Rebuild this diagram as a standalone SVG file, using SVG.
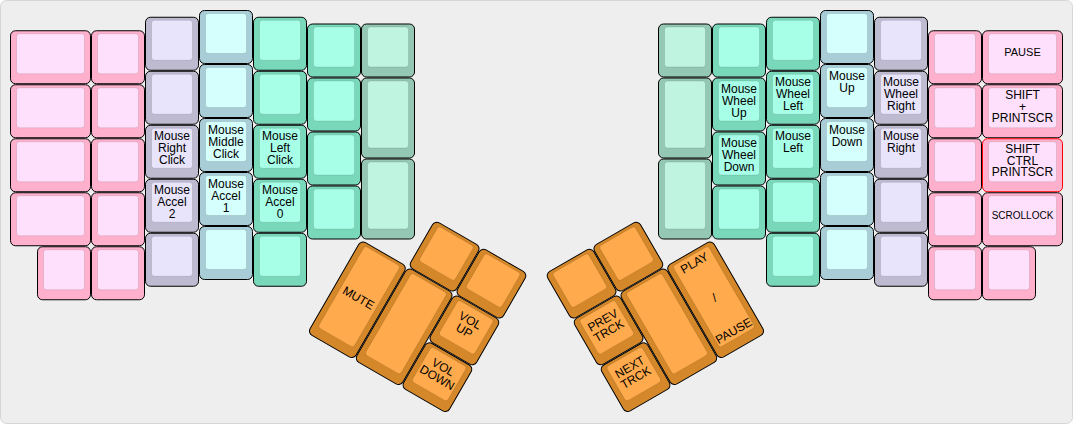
<svg xmlns="http://www.w3.org/2000/svg" width="1073" height="424" viewBox="0 0 1073 424">
<style>
.o{stroke:#000;stroke-width:1}
.i{stroke:rgba(0,0,0,.1);stroke-width:1}
.pk .o{fill:#ffb0cc}.pk .i{fill:#ffe0fc}
.lv .o{fill:#bebad0}.lv .i{fill:#e8e4fc}
.cy .o{fill:#a8cdd6}.cy .i{fill:#d4fffc}
.mt .o{fill:#7ad8ba}.mt .i{fill:#a8ffe8}
.sg .o{fill:#94c8b4}.sg .i{fill:#bef4e0}
.or .o{fill:#d4882a}.or .i{fill:#ffaa4c}
.red .o{stroke:#f00}
text{font-family:"Liberation Sans",Arial,Helvetica,sans-serif;font-size:12px;text-anchor:middle;fill:#000}
.s11{font-size:11px}.s10{font-size:10px}
</style>
<defs>
<g id="u1"><rect class="o" x=".5" y=".5" width="53" height="53" rx="5"/><rect class="i" x="6.5" y="3.5" width="41" height="40" rx="3"/></g>
</defs>
<rect x="0.5" y="0.5" width="1072" height="423" rx="6" fill="#eeeeee" stroke="#d6d6d6"/>

<g id="left-hand">
<g id="L-c0-r0" class="pk" transform="translate(10,30.25)"><rect class="o" x=".5" y=".5" width="80" height="53" rx="5"/><rect class="i" x="6.5" y="3.5" width="68" height="40" rx="3"/></g>
<g id="L-c0-r1" class="pk" transform="translate(10,84.25)"><rect class="o" x=".5" y=".5" width="80" height="53" rx="5"/><rect class="i" x="6.5" y="3.5" width="68" height="40" rx="3"/></g>
<g id="L-c0-r2" class="pk" transform="translate(10,138.25)"><rect class="o" x=".5" y=".5" width="80" height="53" rx="5"/><rect class="i" x="6.5" y="3.5" width="68" height="40" rx="3"/></g>
<g id="L-c0-r3" class="pk" transform="translate(10,192.25)"><rect class="o" x=".5" y=".5" width="80" height="53" rx="5"/><rect class="i" x="6.5" y="3.5" width="68" height="40" rx="3"/></g>
<g id="L-c0-r4" class="pk" transform="translate(37,246.25)"><rect class="o" x=".5" y=".5" width="53" height="53" rx="5"/><rect class="i" x="6.5" y="3.5" width="41" height="40" rx="3"/></g>

<g id="L-c1-r0" class="pk" transform="translate(91,30.25)"><rect class="o" x=".5" y=".5" width="53" height="53" rx="5"/><rect class="i" x="6.5" y="3.5" width="41" height="40" rx="3"/></g>
<g id="L-c1-r1" class="pk" transform="translate(91,84.25)"><rect class="o" x=".5" y=".5" width="53" height="53" rx="5"/><rect class="i" x="6.5" y="3.5" width="41" height="40" rx="3"/></g>
<g id="L-c1-r2" class="pk" transform="translate(91,138.25)"><rect class="o" x=".5" y=".5" width="53" height="53" rx="5"/><rect class="i" x="6.5" y="3.5" width="41" height="40" rx="3"/></g>
<g id="L-c1-r3" class="pk" transform="translate(91,192.25)"><rect class="o" x=".5" y=".5" width="53" height="53" rx="5"/><rect class="i" x="6.5" y="3.5" width="41" height="40" rx="3"/></g>
<g id="L-c1-r4" class="pk" transform="translate(91,246.25)"><rect class="o" x=".5" y=".5" width="53" height="53" rx="5"/><rect class="i" x="6.5" y="3.5" width="41" height="40" rx="3"/></g>

<g id="L-c2-r0" class="lv" transform="translate(145,16.75)"><rect class="o" x=".5" y=".5" width="53" height="53" rx="5"/><rect class="i" x="6.5" y="3.5" width="41" height="40" rx="3"/></g>
<g id="L-c2-r1" class="lv" transform="translate(145,70.75)"><rect class="o" x=".5" y=".5" width="53" height="53" rx="5"/><rect class="i" x="6.5" y="3.5" width="41" height="40" rx="3"/></g>
<g id="L-c2-r2" class="lv" transform="translate(145,124.75)"><rect class="o" x=".5" y=".5" width="53" height="53" rx="5"/><rect class="i" x="6.5" y="3.5" width="41" height="40" rx="3"/><text x="27" y="15.5">Mouse</text><text x="27" y="27.5">Right</text><text x="27" y="39.5">Click</text></g>
<g id="L-c2-r3" class="lv" transform="translate(145,178.75)"><rect class="o" x=".5" y=".5" width="53" height="53" rx="5"/><rect class="i" x="6.5" y="3.5" width="41" height="40" rx="3"/><text x="27" y="15.5">Mouse</text><text x="27" y="27.5">Accel</text><text x="27" y="39.5">2</text></g>
<g id="L-c2-r4" class="lv" transform="translate(145,232.75)"><rect class="o" x=".5" y=".5" width="53" height="53" rx="5"/><rect class="i" x="6.5" y="3.5" width="41" height="40" rx="3"/></g>

<g id="L-c3-r0" class="cy" transform="translate(199,10)"><rect class="o" x=".5" y=".5" width="53" height="53" rx="5"/><rect class="i" x="6.5" y="3.5" width="41" height="40" rx="3"/></g>
<g id="L-c3-r1" class="cy" transform="translate(199,64)"><rect class="o" x=".5" y=".5" width="53" height="53" rx="5"/><rect class="i" x="6.5" y="3.5" width="41" height="40" rx="3"/></g>
<g id="L-c3-r2" class="cy" transform="translate(199,118)"><rect class="o" x=".5" y=".5" width="53" height="53" rx="5"/><rect class="i" x="6.5" y="3.5" width="41" height="40" rx="3"/><text x="27" y="15.5">Mouse</text><text x="27" y="27.5">Middle</text><text x="27" y="39.5">Click</text></g>
<g id="L-c3-r3" class="cy" transform="translate(199,172)"><rect class="o" x=".5" y=".5" width="53" height="53" rx="5"/><rect class="i" x="6.5" y="3.5" width="41" height="40" rx="3"/><text x="27" y="15.5">Mouse</text><text x="27" y="27.5">Accel</text><text x="27" y="39.5">1</text></g>
<g id="L-c3-r4" class="cy" transform="translate(199,226)"><rect class="o" x=".5" y=".5" width="53" height="53" rx="5"/><rect class="i" x="6.5" y="3.5" width="41" height="40" rx="3"/></g>

<g id="L-c4-r0" class="mt" transform="translate(253,16.75)"><rect class="o" x=".5" y=".5" width="53" height="53" rx="5"/><rect class="i" x="6.5" y="3.5" width="41" height="40" rx="3"/></g>
<g id="L-c4-r1" class="mt" transform="translate(253,70.75)"><rect class="o" x=".5" y=".5" width="53" height="53" rx="5"/><rect class="i" x="6.5" y="3.5" width="41" height="40" rx="3"/></g>
<g id="L-c4-r2" class="mt" transform="translate(253,124.75)"><rect class="o" x=".5" y=".5" width="53" height="53" rx="5"/><rect class="i" x="6.5" y="3.5" width="41" height="40" rx="3"/><text x="27" y="15.5">Mouse</text><text x="27" y="27.5">Left</text><text x="27" y="39.5">Click</text></g>
<g id="L-c4-r3" class="mt" transform="translate(253,178.75)"><rect class="o" x=".5" y=".5" width="53" height="53" rx="5"/><rect class="i" x="6.5" y="3.5" width="41" height="40" rx="3"/><text x="27" y="15.5">Mouse</text><text x="27" y="27.5">Accel</text><text x="27" y="39.5">0</text></g>
<g id="L-c4-r4" class="mt" transform="translate(253,232.75)"><rect class="o" x=".5" y=".5" width="53" height="53" rx="5"/><rect class="i" x="6.5" y="3.5" width="41" height="40" rx="3"/></g>

<g id="L-c5-r0" class="mt" transform="translate(307,23.5)"><rect class="o" x=".5" y=".5" width="53" height="53" rx="5"/><rect class="i" x="6.5" y="3.5" width="41" height="40" rx="3"/></g>
<g id="L-c5-r1" class="mt" transform="translate(307,77.5)"><rect class="o" x=".5" y=".5" width="53" height="53" rx="5"/><rect class="i" x="6.5" y="3.5" width="41" height="40" rx="3"/></g>
<g id="L-c5-r2" class="mt" transform="translate(307,131.5)"><rect class="o" x=".5" y=".5" width="53" height="53" rx="5"/><rect class="i" x="6.5" y="3.5" width="41" height="40" rx="3"/></g>
<g id="L-c5-r3" class="mt" transform="translate(307,185.5)"><rect class="o" x=".5" y=".5" width="53" height="53" rx="5"/><rect class="i" x="6.5" y="3.5" width="41" height="40" rx="3"/></g>

<g id="L-c6-r0" class="sg" transform="translate(361,23.5)"><rect class="o" x=".5" y=".5" width="53" height="53" rx="5"/><rect class="i" x="6.5" y="3.5" width="41" height="40" rx="3"/></g>
<g id="L-c6-r1" class="sg" transform="translate(361,77.5)"><rect class="o" x=".5" y=".5" width="53" height="80" rx="5"/><rect class="i" x="6.5" y="3.5" width="41" height="67" rx="3"/></g>
<g id="L-c6-r2" class="sg" transform="translate(361,158.5)"><rect class="o" x=".5" y=".5" width="53" height="80" rx="5"/><rect class="i" x="6.5" y="3.5" width="41" height="67" rx="3"/></g>
</g>

<g id="right-hand">
<g id="R-c6-r0" class="sg" transform="translate(658,23.5)"><rect class="o" x=".5" y=".5" width="53" height="53" rx="5"/><rect class="i" x="6.5" y="3.5" width="41" height="40" rx="3"/></g>
<g id="R-c6-r1" class="sg" transform="translate(658,77.5)"><rect class="o" x=".5" y=".5" width="53" height="80" rx="5"/><rect class="i" x="6.5" y="3.5" width="41" height="67" rx="3"/></g>
<g id="R-c6-r2" class="sg" transform="translate(658,158.5)"><rect class="o" x=".5" y=".5" width="53" height="80" rx="5"/><rect class="i" x="6.5" y="3.5" width="41" height="67" rx="3"/></g>

<g id="R-c5-r0" class="mt" transform="translate(712,23.5)"><rect class="o" x=".5" y=".5" width="53" height="53" rx="5"/><rect class="i" x="6.5" y="3.5" width="41" height="40" rx="3"/></g>
<g id="R-c5-r1" class="mt" transform="translate(712,77.5)"><rect class="o" x=".5" y=".5" width="53" height="53" rx="5"/><rect class="i" x="6.5" y="3.5" width="41" height="40" rx="3"/><text x="27" y="15.5">Mouse</text><text x="27" y="27.5">Wheel</text><text x="27" y="39.5">Up</text></g>
<g id="R-c5-r2" class="mt" transform="translate(712,131.5)"><rect class="o" x=".5" y=".5" width="53" height="53" rx="5"/><rect class="i" x="6.5" y="3.5" width="41" height="40" rx="3"/><text x="27" y="15.5">Mouse</text><text x="27" y="27.5">Wheel</text><text x="27" y="39.5">Down</text></g>
<g id="R-c5-r3" class="mt" transform="translate(712,185.5)"><rect class="o" x=".5" y=".5" width="53" height="53" rx="5"/><rect class="i" x="6.5" y="3.5" width="41" height="40" rx="3"/></g>

<g id="R-c4-r0" class="mt" transform="translate(766,16.75)"><rect class="o" x=".5" y=".5" width="53" height="53" rx="5"/><rect class="i" x="6.5" y="3.5" width="41" height="40" rx="3"/></g>
<g id="R-c4-r1" class="mt" transform="translate(766,70.75)"><rect class="o" x=".5" y=".5" width="53" height="53" rx="5"/><rect class="i" x="6.5" y="3.5" width="41" height="40" rx="3"/><text x="27" y="15.5">Mouse</text><text x="27" y="27.5">Wheel</text><text x="27" y="39.5">Left</text></g>
<g id="R-c4-r2" class="mt" transform="translate(766,124.75)"><rect class="o" x=".5" y=".5" width="53" height="53" rx="5"/><rect class="i" x="6.5" y="3.5" width="41" height="40" rx="3"/><text x="27" y="15.5">Mouse</text><text x="27" y="27.5">Left</text></g>
<g id="R-c4-r3" class="mt" transform="translate(766,178.75)"><rect class="o" x=".5" y=".5" width="53" height="53" rx="5"/><rect class="i" x="6.5" y="3.5" width="41" height="40" rx="3"/></g>
<g id="R-c4-r4" class="mt" transform="translate(766,232.75)"><rect class="o" x=".5" y=".5" width="53" height="53" rx="5"/><rect class="i" x="6.5" y="3.5" width="41" height="40" rx="3"/></g>

<g id="R-c3-r0" class="cy" transform="translate(820,10)"><rect class="o" x=".5" y=".5" width="53" height="53" rx="5"/><rect class="i" x="6.5" y="3.5" width="41" height="40" rx="3"/></g>
<g id="R-c3-r1" class="cy" transform="translate(820,64)"><rect class="o" x=".5" y=".5" width="53" height="53" rx="5"/><rect class="i" x="6.5" y="3.5" width="41" height="40" rx="3"/><text x="27" y="15.5">Mouse</text><text x="27" y="27.5">Up</text></g>
<g id="R-c3-r2" class="cy" transform="translate(820,118)"><rect class="o" x=".5" y=".5" width="53" height="53" rx="5"/><rect class="i" x="6.5" y="3.5" width="41" height="40" rx="3"/><text x="27" y="15.5">Mouse</text><text x="27" y="27.5">Down</text></g>
<g id="R-c3-r3" class="cy" transform="translate(820,172)"><rect class="o" x=".5" y=".5" width="53" height="53" rx="5"/><rect class="i" x="6.5" y="3.5" width="41" height="40" rx="3"/></g>
<g id="R-c3-r4" class="cy" transform="translate(820,226)"><rect class="o" x=".5" y=".5" width="53" height="53" rx="5"/><rect class="i" x="6.5" y="3.5" width="41" height="40" rx="3"/></g>

<g id="R-c2-r0" class="lv" transform="translate(874,16.75)"><rect class="o" x=".5" y=".5" width="53" height="53" rx="5"/><rect class="i" x="6.5" y="3.5" width="41" height="40" rx="3"/></g>
<g id="R-c2-r1" class="lv" transform="translate(874,70.75)"><rect class="o" x=".5" y=".5" width="53" height="53" rx="5"/><rect class="i" x="6.5" y="3.5" width="41" height="40" rx="3"/><text x="27" y="15.5">Mouse</text><text x="27" y="27.5">Wheel</text><text x="27" y="39.5">Right</text></g>
<g id="R-c2-r2" class="lv" transform="translate(874,124.75)"><rect class="o" x=".5" y=".5" width="53" height="53" rx="5"/><rect class="i" x="6.5" y="3.5" width="41" height="40" rx="3"/><text x="27" y="15.5">Mouse</text><text x="27" y="27.5">Right</text></g>
<g id="R-c2-r3" class="lv" transform="translate(874,178.75)"><rect class="o" x=".5" y=".5" width="53" height="53" rx="5"/><rect class="i" x="6.5" y="3.5" width="41" height="40" rx="3"/></g>
<g id="R-c2-r4" class="lv" transform="translate(874,232.75)"><rect class="o" x=".5" y=".5" width="53" height="53" rx="5"/><rect class="i" x="6.5" y="3.5" width="41" height="40" rx="3"/></g>

<g id="R-c1-r0" class="pk" transform="translate(928,30.25)"><rect class="o" x=".5" y=".5" width="53" height="53" rx="5"/><rect class="i" x="6.5" y="3.5" width="41" height="40" rx="3"/></g>
<g id="R-c1-r1" class="pk" transform="translate(928,84.25)"><rect class="o" x=".5" y=".5" width="53" height="53" rx="5"/><rect class="i" x="6.5" y="3.5" width="41" height="40" rx="3"/></g>
<g id="R-c1-r2" class="pk" transform="translate(928,138.25)"><rect class="o" x=".5" y=".5" width="53" height="53" rx="5"/><rect class="i" x="6.5" y="3.5" width="41" height="40" rx="3"/></g>
<g id="R-c1-r3" class="pk" transform="translate(928,192.25)"><rect class="o" x=".5" y=".5" width="53" height="53" rx="5"/><rect class="i" x="6.5" y="3.5" width="41" height="40" rx="3"/></g>
<g id="R-c1-r4" class="pk" transform="translate(928,246.25)"><rect class="o" x=".5" y=".5" width="53" height="53" rx="5"/><rect class="i" x="6.5" y="3.5" width="41" height="40" rx="3"/></g>

<g id="R-c0-r0" class="pk" transform="translate(982,30.25)"><rect class="o" x=".5" y=".5" width="80" height="53" rx="5"/><rect class="i" x="6.5" y="3.5" width="68" height="40" rx="3"/><text class="s11" x="40.5" y="26">PAUSE</text></g>
<g id="R-c0-r1" class="pk" transform="translate(982,84.25)"><rect class="o" x=".5" y=".5" width="80" height="53" rx="5"/><rect class="i" x="6.5" y="3.5" width="68" height="40" rx="3"/><text x="40.5" y="14.6">SHIFT</text><text x="40.5" y="26.3">+</text><text x="40.5" y="38">PRINTSCR</text></g>
<g id="R-c0-r2" class="pk red" transform="translate(982,138.25)"><rect class="o" x=".5" y=".5" width="80" height="53" rx="5"/><rect class="i" x="6.5" y="3.5" width="68" height="40" rx="3"/><text x="40.5" y="14.6">SHIFT</text><text x="40.5" y="26.3">CTRL</text><text x="40.5" y="38">PRINTSCR</text></g>
<g id="R-c0-r3" class="pk" transform="translate(982,192.25)"><rect class="o" x=".5" y=".5" width="80" height="53" rx="5"/><rect class="i" x="6.5" y="3.5" width="68" height="40" rx="3"/><text class="s10" x="40.5" y="26.3">SCROLLOCK</text></g>
<g id="R-c0-r4" class="pk" transform="translate(982,246.25)"><rect class="o" x=".5" y=".5" width="53" height="53" rx="5"/><rect class="i" x="6.5" y="3.5" width="41" height="40" rx="3"/></g>
</g>

<g id="thumb-left" transform="translate(361,239.5) rotate(30)">
<g id="LT-a" class="or" transform="translate(54,-54)"><rect class="o" x=".5" y=".5" width="53" height="53" rx="5"/><rect class="i" x="6.5" y="3.5" width="41" height="40" rx="3"/></g>
<g id="LT-b" class="or" transform="translate(108,-54)"><rect class="o" x=".5" y=".5" width="53" height="53" rx="5"/><rect class="i" x="6.5" y="3.5" width="41" height="40" rx="3"/></g>
<g id="LT-mute" class="or"><rect class="o" x=".5" y=".5" width="53" height="107" rx="5"/><rect class="i" x="6.5" y="3.5" width="41" height="94" rx="3"/><text x="27" y="56">MUTE</text></g>
<g id="LT-c" class="or" transform="translate(54,0)"><rect class="o" x=".5" y=".5" width="53" height="107" rx="5"/><rect class="i" x="6.5" y="3.5" width="41" height="94" rx="3"/></g>
<g id="LT-volup" class="or" transform="translate(108,0)"><rect class="o" x=".5" y=".5" width="53" height="53" rx="5"/><rect class="i" x="6.5" y="3.5" width="41" height="40" rx="3"/><text x="27" y="19.5">VOL</text><text x="27" y="31.5">UP</text></g>
<g id="LT-voldown" class="or" transform="translate(108,54)"><rect class="o" x=".5" y=".5" width="53" height="53" rx="5"/><rect class="i" x="6.5" y="3.5" width="41" height="40" rx="3"/><text x="27" y="19.5">VOL</text><text x="27" y="31.5">DOWN</text></g>
</g>

<g id="thumb-right" transform="translate(712,239.5) rotate(-30)">
<g id="RT-a" class="or" transform="translate(-162,-54)"><rect class="o" x=".5" y=".5" width="53" height="53" rx="5"/><rect class="i" x="6.5" y="3.5" width="41" height="40" rx="3"/></g>
<g id="RT-b" class="or" transform="translate(-108,-54)"><rect class="o" x=".5" y=".5" width="53" height="53" rx="5"/><rect class="i" x="6.5" y="3.5" width="41" height="40" rx="3"/></g>
<g id="RT-prev" class="or" transform="translate(-162,0)"><rect class="o" x=".5" y=".5" width="53" height="53" rx="5"/><rect class="i" x="6.5" y="3.5" width="41" height="40" rx="3"/><text x="27" y="19.5">PREV</text><text x="27" y="31.5">TRCK</text></g>
<g id="RT-next" class="or" transform="translate(-162,54)"><rect class="o" x=".5" y=".5" width="53" height="53" rx="5"/><rect class="i" x="6.5" y="3.5" width="41" height="40" rx="3"/><text x="27" y="19.5">NEXT</text><text x="27" y="31.5">TRCK</text></g>
<g id="RT-c" class="or" transform="translate(-108,0)"><rect class="o" x=".5" y=".5" width="53" height="107" rx="5"/><rect class="i" x="6.5" y="3.5" width="41" height="94" rx="3"/></g>
<g id="RT-play" class="or" transform="translate(-54,0)"><rect class="o" x=".5" y=".5" width="53" height="107" rx="5"/><rect class="i" x="6.5" y="3.5" width="41" height="94" rx="3"/><text x="27" y="15.5">PLAY</text><text x="27" y="55.5">/</text><text x="27" y="94">PAUSE</text></g>
</g>
</svg>
